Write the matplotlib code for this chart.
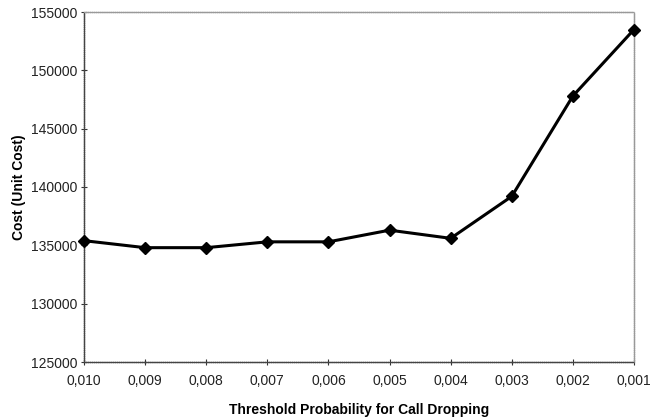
import matplotlib
matplotlib.use("Agg")
import matplotlib.pyplot as plt

thresholds = ["0,010", "0,009", "0,008", "0,007", "0,006", "0,005", "0,004", "0,003", "0,002", "0,001"]
cost = [135400, 134800, 134800, 135300, 135300, 136300, 135600, 139200, 147800, 153500]
y_ticks = [125000, 130000, 135000, 140000, 145000, 150000, 155000]

plt.rcParams['font.family'] = ['Liberation Sans', 'DejaVu Sans']
fig = plt.figure(figsize=(6.61, 4.17), dpi=100)
ax = fig.add_axes([84/661, 55/417, 550/661, 350/417])
x = list(range(len(thresholds)))
ax.plot(x, cost, color='black', lw=2.2, marker='D', ms=6, clip_on=False, zorder=5)
ax.set_xlim(0, len(thresholds) - 1)
ax.set_ylim(125000, 155000)
ax.set_xticks(x)
ax.set_xticklabels(thresholds)
ax.set_yticks(y_ticks)
ax.set_yticklabels([str(v) for v in y_ticks])
ax.tick_params(direction='inout', length=5, width=0.8, labelsize=10, colors='#333333', labelcolor='#222222')
ax.tick_params(axis='y', pad=2)
ax.tick_params(axis='x', pad=6)
for s in ['top', 'right']:
    ax.spines[s].set_color('#999999')
    ax.spines[s].set_linestyle((0, (1, 0.5)))
for s in ['left', 'bottom']:
    ax.spines[s].set_color('#444444')
    ax.spines[s].set_linestyle((0, (1, 0.5)))
for s in ax.spines.values():
    s.set_linewidth(1)
ax.set_xlabel("Threshold Probability for Call Dropping", fontsize=10, fontweight='bold', labelpad=11)
ax.set_ylabel("Cost (Unit Cost)", fontsize=10, fontweight='bold')
ax.yaxis.set_label_coords(-0.105, 0.5)
fig.savefig("out.png", dpi=100)
